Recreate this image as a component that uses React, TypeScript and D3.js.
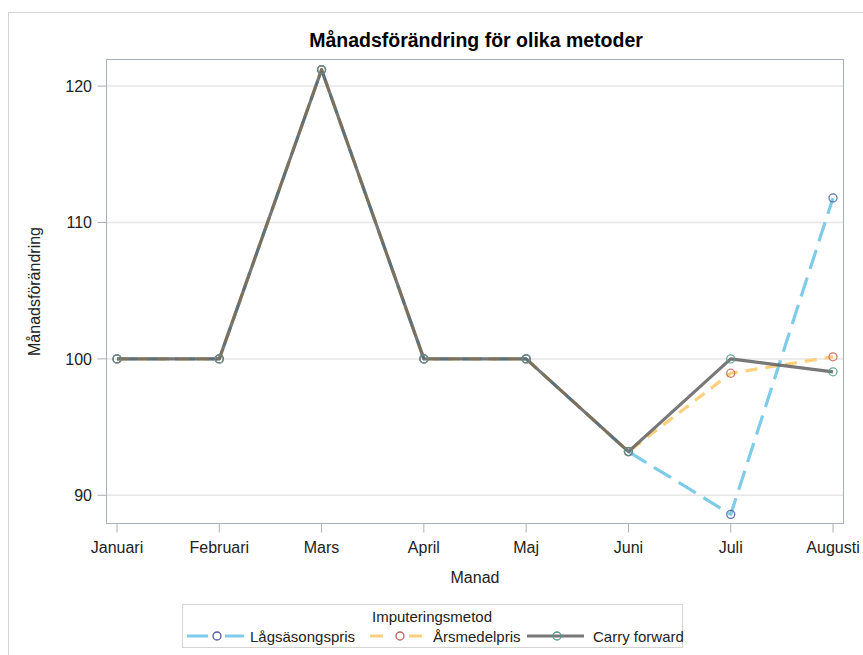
import React from "react";
import * as d3 from "d3";

const months = ["Januari", "Februari", "Mars", "April", "Maj", "Juni", "Juli", "Augusti"];
const lagsasongspris = [100, 100, 121.2, 100, 100, 93.2, 88.6, 111.8];
const arsmedelpris = [100, 100, 121.2, 100, 100, 93.2, 98.95, 100.15];
const carryForward = [100, 100, 121.2, 100, 100, 93.2, 100, 99.05];
const yTicks = [90, 100, 110, 120];
const seriesNames = ["Lågsäsongspris", "Årsmedelpris", "Carry forward"];

const W = 863;
const H = 655;
const plot = { left: 106.5, top: 59.5, right: 843.5, bottom: 523.5 };
const FONT = "'Liberation Sans', Arial, sans-serif";

const styles = [
  { color: "#7fcbea", dash: "20 9", marker: "#4a5a9e", opacity: 1, legendDash: "21 17" },
  { color: "#fdd07e", dash: "12 8", marker: "#c0635a", opacity: 1, legendDash: "13 26" },
  { color: "#5a5a5a", dash: "none", marker: "#4f9a8c", opacity: 0.82, legendDash: "none" },
];

export default function App() {
  const x = d3.scalePoint<string>().domain(months).range([plot.left + 10.5, plot.right - 10.5]);
  const y = d3.scaleLinear().domain([87.93, 121.95]).range([plot.bottom, plot.top]);
  const data = [lagsasongspris, arsmedelpris, carryForward];
  const line = d3
    .line<number>()
    .x((_, i) => x(months[i]) as number)
    .y((d) => y(d));

  const legendItems = [
    { lx: 187, tx: 250 },
    { lx: 370, tx: 433 },
    { lx: 527, tx: 593 },
  ];

  return (
    <svg
      width={W}
      height={H}
      style={{ position: "absolute", left: 0, top: 0, background: "#fff" }}
      fontFamily={FONT}
    >
      <rect x={8.5} y={12.5} width={W} height={H} fill="#fff" stroke="#d4d4d4" />
      <text x={476} y={47} textAnchor="middle" fontWeight="bold" fontSize={19.5} fill="#000">
        Månadsförändring för olika metoder
      </text>
      {yTicks.map((t) => (
        <g key={t}>
          <line x1={plot.left} x2={plot.right} y1={y(t)} y2={y(t)} stroke="#e6e6e6" strokeWidth={1.5} />
          <line x1={plot.left - 9} x2={plot.left} y1={y(t)} y2={y(t)} stroke="#a9b0b6" />
          <text x={92} y={y(t)} dy="0.36em" textAnchor="end" fontSize={16} fill="#222">
            {t}
          </text>
        </g>
      ))}
      {months.map((m) => (
        <g key={m}>
          <line x1={x(m)} x2={x(m)} y1={plot.bottom} y2={plot.bottom + 9} stroke="#a9b0b6" />
          <text x={x(m)} y={553} textAnchor="middle" fontSize={16} fill="#222">
            {m}
          </text>
        </g>
      ))}
      <rect
        x={plot.left}
        y={plot.top}
        width={plot.right - plot.left}
        height={plot.bottom - plot.top}
        fill="none"
        stroke="#a9b0b6"
      />
      <text x={475} y={583} textAnchor="middle" fontSize={16} fill="#222">
        Manad
      </text>
      <text
        transform={`translate(40,${(plot.top + plot.bottom) / 2}) rotate(-90)`}
        textAnchor="middle"
        fontSize={16}
        fill="#222"
      >
        Månadsförändring
      </text>
      {data.map((d, i) => (
        <path
          key={i}
          d={line(d) || ""}
          fill="none"
          stroke={styles[i].color}
          strokeWidth={3.2}
          strokeDasharray={styles[i].dash}
          strokeOpacity={styles[i].opacity}
          strokeLinejoin="round"
        />
      ))}
      {data.map((d, i) =>
        d.map((v, j) => (
          <circle
            key={`${i}-${j}`}
            cx={x(months[j])}
            cy={y(v)}
            r={4}
            fill="none"
            stroke={styles[i].marker}
            strokeWidth={1.3}
            strokeOpacity={0.85}
          />
        ))
      )}
      <rect x={182.5} y={604.5} width={500} height={43} fill="#fff" stroke="#d4d4d4" />
      <text x={432} y={622} textAnchor="middle" fontSize={15} fill="#222">
        Imputeringsmetod
      </text>
      {legendItems.map((it, i) => (
        <g key={i}>
          <line
            x1={it.lx}
            x2={it.lx + 57}
            y1={636}
            y2={636}
            stroke={styles[i].color}
            strokeWidth={3.2}
            strokeDasharray={styles[i].legendDash}
            strokeOpacity={styles[i].opacity}
          />
          <circle cx={it.lx + 30} cy={636} r={4} fill="none" stroke={styles[i].marker} strokeWidth={1.3} />
          <text x={it.tx} y={641.5} fontSize={15} fill="#222">
            {seriesNames[i]}
          </text>
        </g>
      ))}
    </svg>
  );
}
